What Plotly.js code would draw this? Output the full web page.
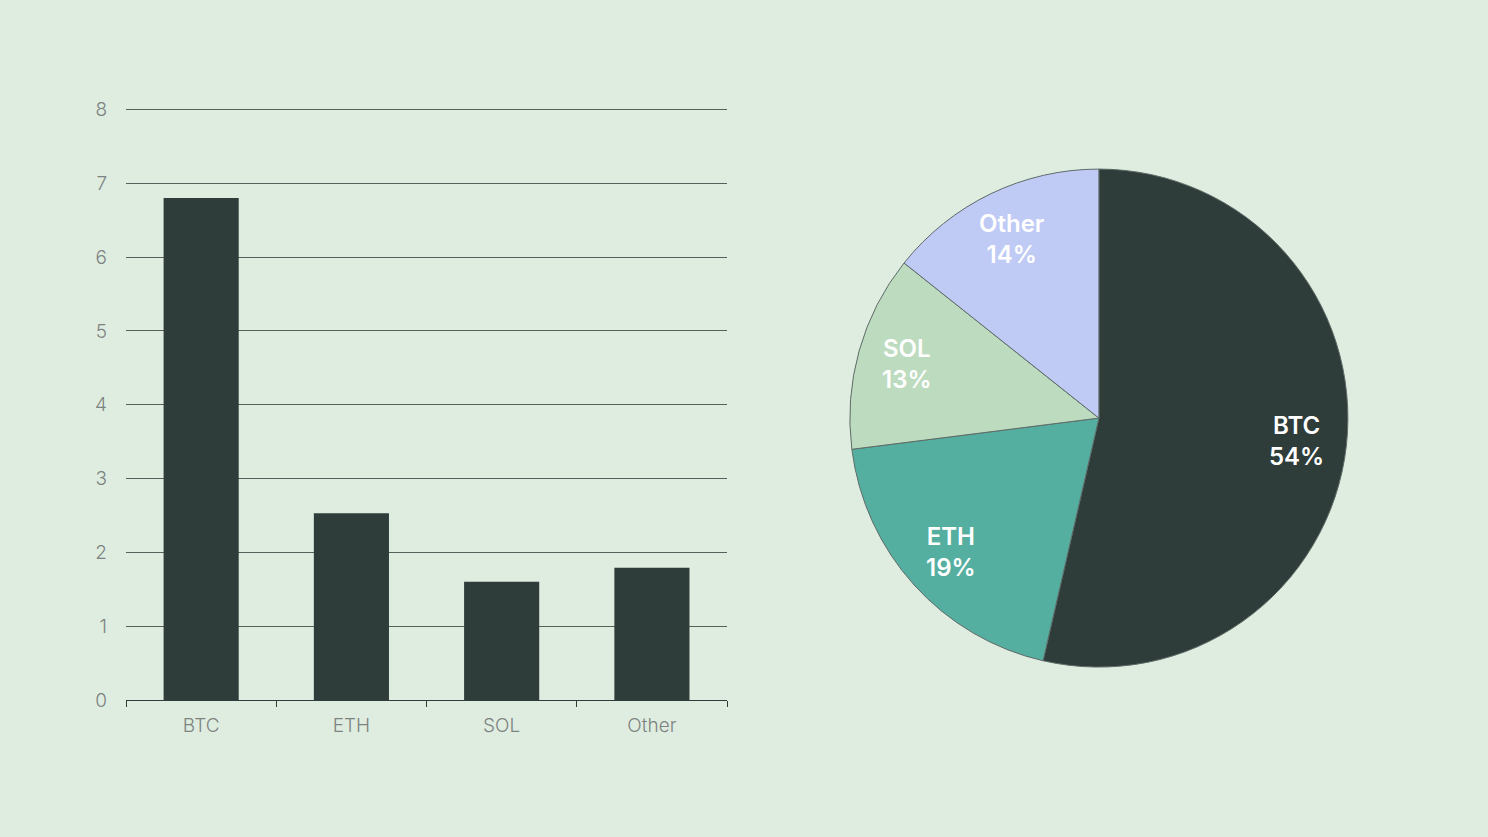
<!DOCTYPE html>
<html>
<head>
<meta charset="utf-8">
<script src="https://cdn.plot.ly/plotly-3.0.1.min.js"></script>
<style>
  html, body { margin: 0; padding: 0; background: #dfede0; }
  #chart { width: 1488px; height: 837px; }
</style>
</head>
<body>
<div id="chart"></div>
<script>
// holdings by coin
const coins = ['BTC', 'ETH', 'SOL', 'Other'];
const amounts = [6.8, 2.53, 1.6, 1.79];
const shares = [53.6, 19.4, 12.7, 14.3];
const colors = ['#2f3d3a', '#55afa1', '#bddbbf', '#bfcaf5'];

const W = 1488, H = 837;
const pieX = [0.571, 0.906], pieY = [0.203, 0.798];

const bars = {
  type: 'bar',
  x: coins,
  y: amounts,
  width: 0.5,
  marker: { color: '#2f3d3a' },
  xaxis: 'x',
  yaxis: 'y',
  hoverinfo: 'x+y'
};

const pie = {
  type: 'pie',
  labels: coins,
  values: shares,
  sort: false,
  direction: 'clockwise',
  rotation: 0,
  marker: { colors: colors, line: { color: '#5f6b68', width: 1 } },
  textinfo: 'none',
  domain: { x: pieX, y: pieY },
  showlegend: false
};

// slice labels placed out toward the rim, like the original
const total = shares.reduce((s, v) => s + v, 0);
const cx = (pieX[0] + pieX[1]) / 2, cy = (pieY[0] + pieY[1]) / 2;
const rad = Math.min((pieX[1] - pieX[0]) * W, (pieY[1] - pieY[0]) * H) / 2;
let acc = 0;
const labels = coins.map((c, i) => {
  const mid = (acc + shares[i] / 2) / total * 2 * Math.PI;
  acc += shares[i];
  const r = rad * 0.8;
  return {
    xref: 'paper', yref: 'paper',
    x: cx + Math.sin(mid) * r / W,
    y: cy + Math.cos(mid) * r / H,
    xanchor: 'center',
    yanchor: 'middle',
    text: c + '<br>' + Math.round(shares[i] / total * 100) + '%',
    showarrow: false,
    font: { family: 'Inter, sans-serif', size: 24, color: '#ffffff', weight: 600 },
    align: 'center'
  };
});

const layout = {
  width: W,
  height: H,
  margin: { l: 0, r: 0, t: 0, b: 0 },
  paper_bgcolor: '#dfede0',
  plot_bgcolor: '#dfede0',
  showlegend: false,
  font: { family: 'Inter, sans-serif', color: '#7a807d', size: 18 },
  annotations: labels,
  xaxis: {
    domain: [0.0847, 0.4886],
    showline: true,
    linecolor: '#2f3d3a',
    linewidth: 1.5,
    ticks: 'outside',
    tickson: 'boundaries',
    ticklen: 6,
    tickcolor: '#2f3d3a',
    showgrid: false,
    ticklabelstandoff: 8,
    tickfont: { size: 19, color: '#7d8380', weight: 300 },
    fixedrange: true
  },
  yaxis: {
    domain: [0.1637, 0.871],
    range: [0, 8.02],
    dtick: 1,
    showline: false,
    zeroline: false,
    gridcolor: '#55605c',
    gridwidth: 1,
    ticklabelstandoff: 18,
    tickfont: { size: 19, color: '#7d8380', weight: 300 },
    fixedrange: true
  }
};

Plotly.newPlot('chart', [bars, pie], layout, { displayModeBar: false, staticPlot: true });
</script>
</body>
</html>
